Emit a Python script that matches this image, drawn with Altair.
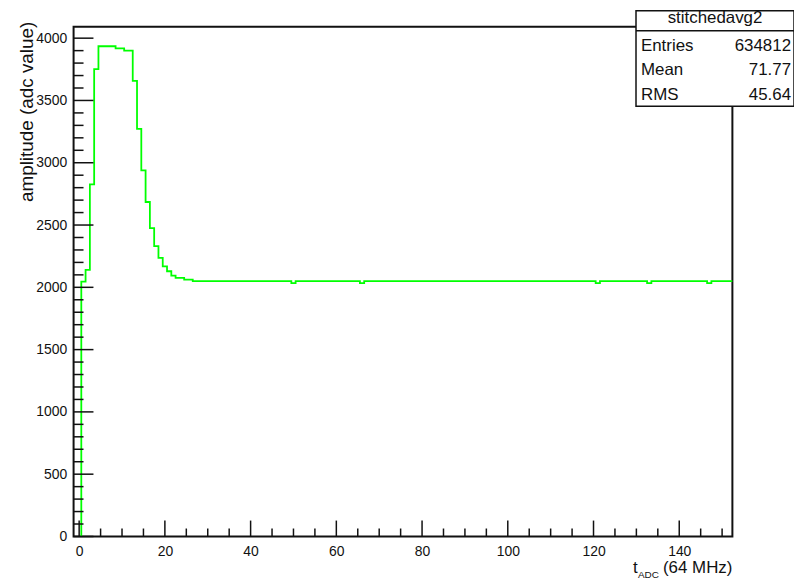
import altair as alt
import pandas as pd

# ---------------- data ----------------
# histogram "stitchedavg2": bin centres (t_ADC samples) and bin contents
bin_centers = list(range(1, 153))
bin_contents = [
    2045, 2140, 2826, 3752, 3935, 3935, 3935, 3935, 3918, 3918,   # 1-10
    3900, 3900, 3658, 3272, 2938, 2685, 2475, 2331, 2236, 2168,   # 11-20
    2129, 2094, 2076, 2076, 2062, 2062, 2049, 2049, 2049, 2049,   # 21-30
    2049, 2049, 2049, 2049, 2049, 2049, 2049, 2049, 2049, 2049,   # 31-40
    2049, 2049, 2049, 2049, 2049, 2049, 2049, 2049, 2049, 2033,   # 41-50
    2049, 2049, 2049, 2049, 2049, 2049, 2049, 2049, 2049, 2049,   # 51-60
    2049, 2049, 2049, 2049, 2049, 2033, 2049, 2049, 2049, 2049,   # 61-70
    2049, 2049, 2049, 2049, 2049, 2049, 2049, 2049, 2049, 2049,   # 71-80
    2049, 2049, 2049, 2049, 2049, 2049, 2049, 2049, 2049, 2049,   # 81-90
    2049, 2049, 2049, 2049, 2049, 2049, 2049, 2049, 2049, 2049,   # 91-100
    2049, 2049, 2049, 2049, 2049, 2049, 2049, 2049, 2049, 2049,   # 101-110
    2049, 2049, 2049, 2049, 2049, 2049, 2049, 2049, 2049, 2049,   # 111-120
    2033, 2049, 2049, 2049, 2049, 2049, 2049, 2049, 2049, 2049,   # 121-130
    2049, 2049, 2033, 2049, 2049, 2049, 2049, 2049, 2049, 2049,   # 131-140
    2049, 2049, 2049, 2049, 2049, 2049, 2033, 2049, 2049, 2049,   # 141-150
    2049, 2049,                                                   # 151-152
]
bin_width = 1.0

x_major = [0, 20, 40, 60, 80, 100, 120, 140]
x_minor = [v for v in range(0, 155, 5) if v not in x_major]
y_major = [0, 500, 1000, 1500, 2000, 2500, 3000, 3500, 4000]
y_minor = [v for v in range(0, 4001, 100) if v not in y_major]

x_domain = [-1.3, 152.4]
y_domain = [0, 4092]

stats_title = "stitchedavg2"
stat_names = ["Entries", "Mean", "RMS"]
stat_values = ["634812", "71.77", "45.64"]

y_title = "amplitude (adc value)"
x_title_main = "t"
x_title_sub = "ADC"
x_title_rest = "(64 MHz)"

# ---------------- styling ----------------
FONT = "Liberation Sans, Arial, Helvetica, sans-serif"
INK = "#111111"
W, H = 663, 513

xscale = alt.Scale(domain=x_domain, nice=False, zero=False)
yscale = alt.Scale(domain=y_domain, nice=False, zero=False)

xaxis = alt.Axis(values=x_major, format="d", title=None, grid=False, ticks=False, tickSize=0,
                 domain=False, labelFont=FONT, labelFontSize=14, labelColor=INK,
                 labelPadding=8, labelFlush=False)
yaxis = alt.Axis(values=y_major, format="d", title=None, grid=False, ticks=False, tickSize=0,
                 domain=False, labelFont=FONT, labelFontSize=14, labelColor=INK,
                 labelPadding=7, labelFlush=False)

# step outline built from the bin list (ROOT style: rises from 0 at first edge)
edges = [c - bin_width / 2 for c in bin_centers]
xs = [edges[0]] + edges + [bin_centers[-1] + bin_width / 2]
ys = [0] + bin_contents + [bin_contents[-1]]
hist = pd.DataFrame({"x": xs, "y": ys, "i": list(range(len(xs)))})

line = alt.Chart(hist).mark_line(
    interpolate="step-after", color="#00ff00", strokeWidth=1.8, clip=True
).encode(
    x=alt.X("x:Q", scale=xscale, axis=xaxis),
    y=alt.Y("y:Q", scale=yscale, axis=yaxis),
    order=alt.Order("i:Q"),
)


def yticks(vals, length):
    return alt.Chart(pd.DataFrame({"y": vals})).mark_rule(
        color=INK, strokeWidth=1.5
    ).encode(
        y=alt.Y("y:Q", scale=yscale, axis=yaxis),
        x=alt.value(0),
        x2=alt.value(length),
    )


def xticks(vals, length):
    return alt.Chart(pd.DataFrame({"x": vals})).mark_rule(
        color=INK, strokeWidth=1.5
    ).encode(
        x=alt.X("x:Q", scale=xscale, axis=xaxis),
        y=alt.value(H),
        y2=alt.value(H - length),
    )


one = pd.DataFrame({"a": [0]})

# stats box
box = alt.Chart(one).mark_rect(fill="white", stroke=INK, strokeWidth=1.5).encode(
    x=alt.value(566), x2=alt.value(725), y=alt.value(-16), y2=alt.value(80)
)
sep = alt.Chart(one).mark_rule(color=INK, strokeWidth=1.5).encode(
    x=alt.value(566), x2=alt.value(725), y=alt.value(4)
)
box_title = alt.Chart(one).mark_text(
    text=stats_title, font=FONT, fontSize=17, color=INK, align="center", baseline="alphabetic"
).encode(x=alt.value(645.5), y=alt.value(-4))

stat_layers = []
for k, (nm, vv) in enumerate(zip(stat_names, stat_values)):
    yb = 24 + 25 * k
    stat_layers.append(alt.Chart(one).mark_text(
        text=nm, font=FONT, fontSize=17, color=INK, align="left", baseline="alphabetic"
    ).encode(x=alt.value(571), y=alt.value(yb)))
    stat_layers.append(alt.Chart(one).mark_text(
        text=vv, font=FONT, fontSize=17, color=INK, align="right", baseline="alphabetic"
    ).encode(x=alt.value(722), y=alt.value(yb)))

# axis titles
ytitle = alt.Chart(one).mark_text(
    text=y_title, font=FONT, fontSize=19, color=INK, angle=270, align="right", baseline="middle"
).encode(x=alt.value(-47), y=alt.value(-5))

xt1 = alt.Chart(one).mark_text(
    text=x_title_main, font=FONT, fontSize=17, color=INK, align="left", baseline="alphabetic"
).encode(x=alt.value(563), y=alt.value(550))
xt2 = alt.Chart(one).mark_text(
    text=x_title_sub, font=FONT, fontSize=10, color=INK, align="left", baseline="alphabetic"
).encode(x=alt.value(568), y=alt.value(555))
xt3 = alt.Chart(one).mark_text(
    text=x_title_rest, font=FONT, fontSize=17, color=INK, align="right", baseline="alphabetic"
).encode(x=alt.value(663), y=alt.value(550))

chart = alt.layer(
    line,
    yticks(y_major, 20), yticks(y_minor, 10),
    xticks(x_major, 16), xticks(x_minor, 8),
    box, sep, box_title, *stat_layers,
    ytitle, xt1, xt2, xt3,
).properties(
    width=W, height=H,
    autosize=alt.AutoSizeParams(type="none"),
    padding={"left": 66, "top": 17, "right": 62, "bottom": 45},
    background="white",
).configure_view(stroke=INK, strokeWidth=2)

chart.save("out.html", embed_options={"renderer": "svg", "actions": False})
